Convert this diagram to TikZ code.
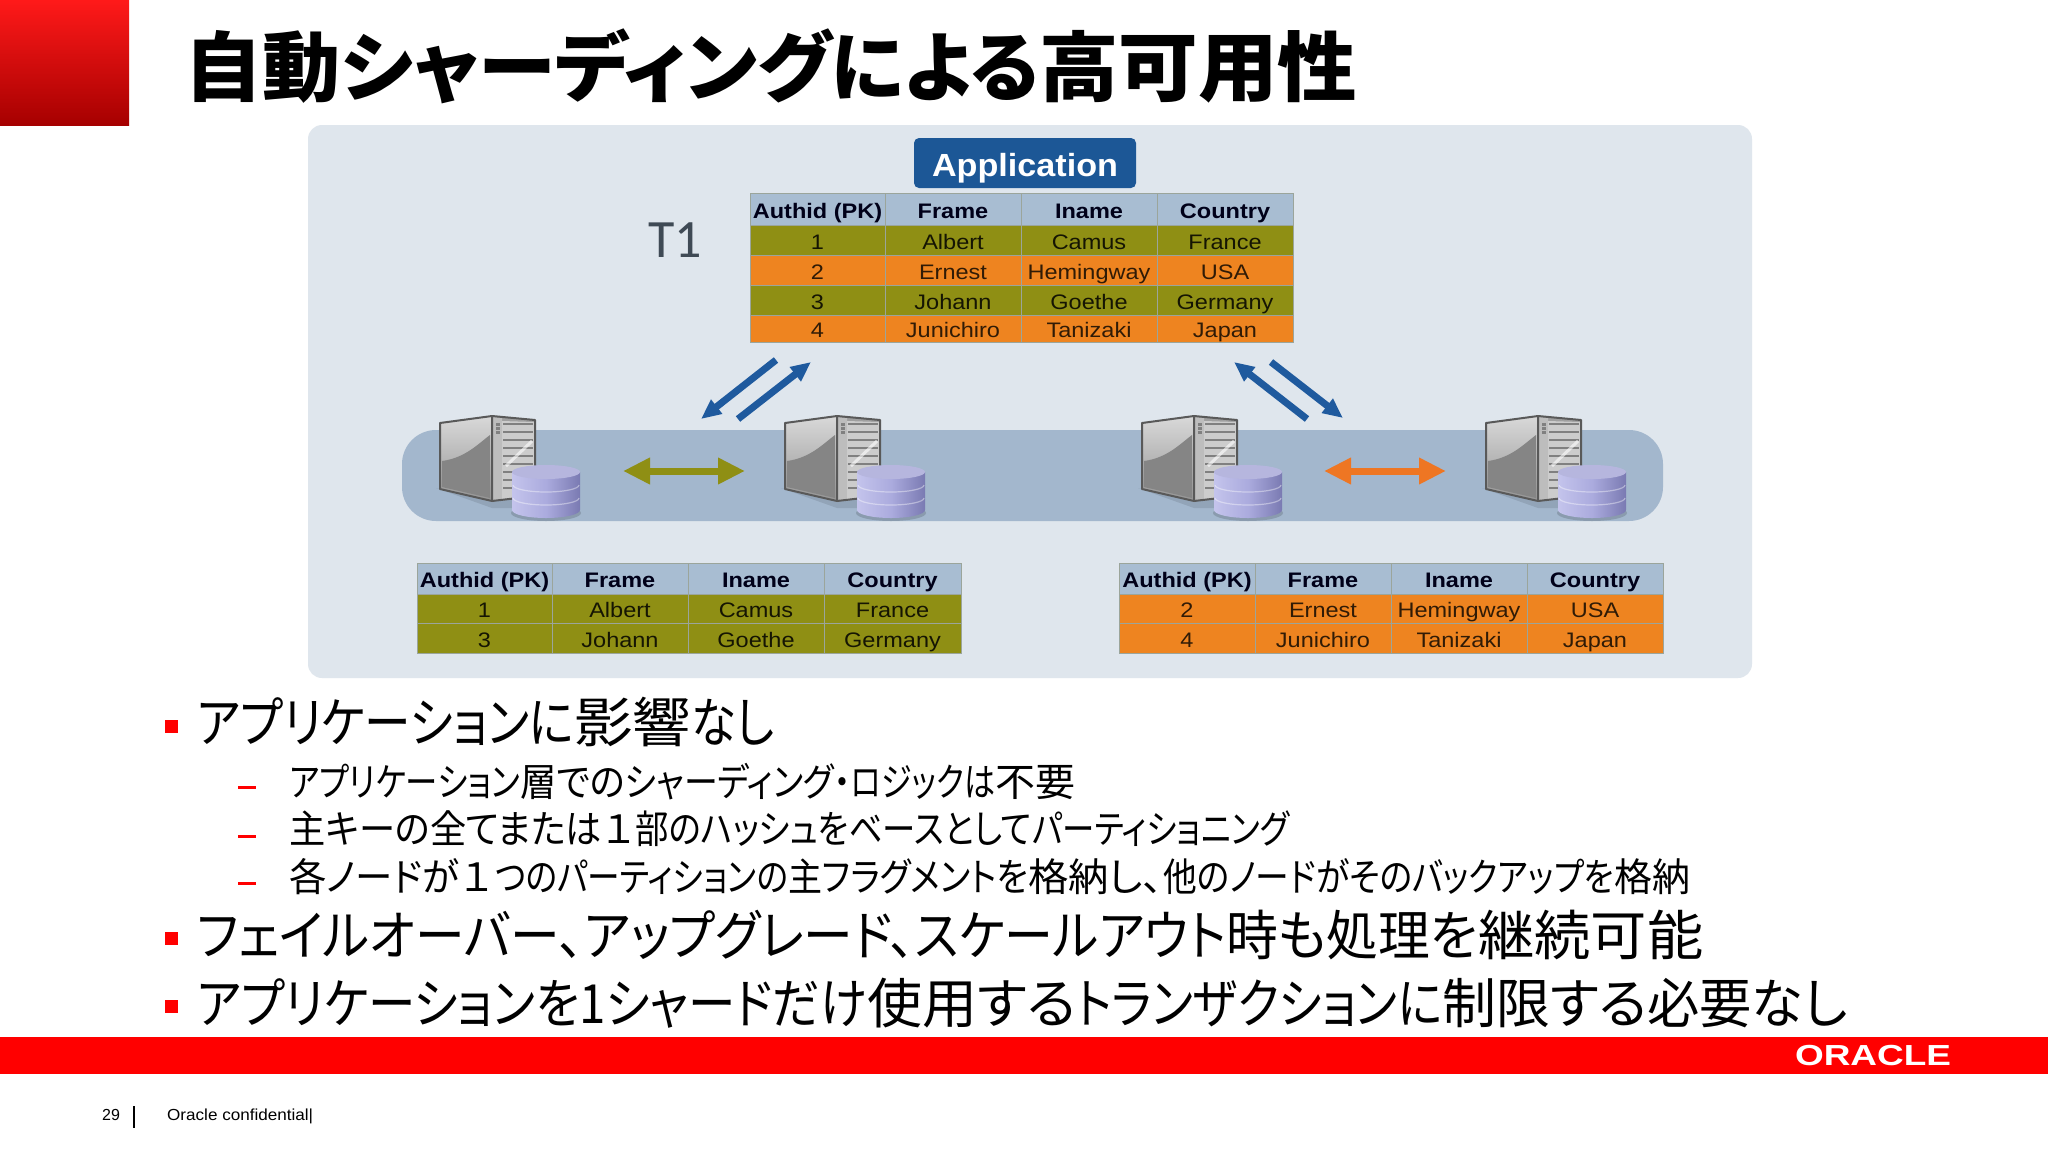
\documentclass[tikz,border=0pt]{standalone}
\usepackage{fontspec}
\usepackage{graphicx}
\setmainfont{Liberation Sans}
\newfontfamily\jpfont[RawFeature=+palt]{Noto Sans CJK JP}
\newfontfamily\calfont{Carlito}
\usetikzlibrary{arrows.meta}
\definecolor{panelc}{HTML}{DFE6ED}
\definecolor{bandc}{HTML}{A3B7CD}
\definecolor{headc}{HTML}{A8BDD2}
\definecolor{olivec}{HTML}{8F8F14}
\definecolor{orangec}{HTML}{EE8420}
\definecolor{bluec}{HTML}{1F5A9E}
\definecolor{appc}{HTML}{1C5796}
\definecolor{arrowor}{HTML}{EE7623}
\definecolor{gridc}{HTML}{9BA59B}
\definecolor{oracred}{HTML}{FF0000}
\definecolor{t1c}{HTML}{3F4A55}
\definecolor{dbl}{HTML}{C4C4EC}
\definecolor{dbm}{HTML}{ABABDE}
\definecolor{dbr}{HTML}{7A7AB2}
\definecolor{dbt}{HTML}{B6B6DE}
\tikzset{
  cellbase/.style={draw=gridc,line width=1pt,inner sep=0pt,text height=18pt,text depth=0pt,font=\fontsize{21}{24}\selectfont},
  headcell/.style={cellbase,fill=headc,text=black!90!blue,font=\bfseries\fontsize{21}{24}\selectfont},
  olivecell/.style={cellbase,fill=olivec,text=black!85!olivec},
  orangecell/.style={cellbase,fill=orangec,text=black!80!orangec},
  bluearrow/.style={draw=bluec,line width=7pt,-{Triangle[length=20pt,width=17pt]}},
  bigarrow/.style={line width=7pt,{Triangle[length=27pt,width=25pt]}-{Triangle[length=27pt,width=25pt]}},
  textline/.style={anchor=west,inner sep=0pt,text=black},
  bulletmark/.style={fill=oracred,draw=none,minimum width=13pt,minimum height=13pt,inner sep=0pt},
  dashmark/.style={fill=oracred,draw=none,minimum width=18pt,minimum height=3pt,inner sep=0pt},
}
% cell: name, x0, x1, y0, y1, style, text
\newcommand{\tcell}[7]{%
  \pgfmathsetmacro{\cw}{#3-#2}\pgfmathsetmacro{\ch}{#5-#4}%
  \node[#6,minimum width=\cw pt,minimum height=\ch pt] (#1) at ({(#2+#3)/2},{(#4+#5)/2}) {\scalebox{1.12}[1]{#7}};}
\newcommand{\setcols}[5]{\def\xa{#1}\def\xb{#2}\def\xc{#3}\def\xd{#4}\def\xe{#5}}
% row: prefix, y0, y1, style, four texts
\newcommand{\trow}[8]{%
  \tcell{#1a}{\xa}{\xb}{#2}{#3}{#4}{#5}%
  \tcell{#1b}{\xb}{\xc}{#2}{#3}{#4}{#6}%
  \tcell{#1c}{\xc}{\xd}{#2}{#3}{#4}{#7}%
  \tcell{#1d}{\xd}{\xe}{#2}{#3}{#4}{#8}}
% fit text horizontally to a given width
\newcommand{\fitw}[2]{\resizebox{#1pt}{\height}{#2}}
% a centred character in a slot of a given width
\newcommand{\slot}[2]{\makebox[#1pt]{#2}}
% server + database drawing
\newcommand{\srv}[2]{%
\begin{scope}[shift={(#1,#2)}]
  \fill[black,opacity=.10] (-4,72) -- (52,92) -- (96,92) -- (96,80) -- (52,85) -- (0,73) -- cycle;
  \fill[gray!75] (52,0) -- (95,4) -- (95,82) -- (52,85) -- cycle;
  \shade[top color=white!85!black,bottom color=black!42] (0,7) -- (52,0) -- (52,85) -- (0,73) -- cycle;
  \fill[black!48] (2,45) .. controls (25,42) and (38,28) .. (50,19) -- (50,82) -- (2,71) -- cycle;
  \fill[white!74!black] (53,1) -- (62,2) -- (62,84) -- (53,85) -- cycle;
  \fill[white!80!black] (62,5) -- (94,6) -- (94,80) -- (62,83) -- cycle;
  \foreach \yy in {8,16,24,32,40,48,56,64,72}{\draw[black!50,line width=1.4pt] (63,\yy) -- (93,\yy);}
  \draw[white,line width=3pt,opacity=.6] (66,50) -- (92,25);
  \draw[black!65,line width=2pt,line join=round] (0,7) -- (52,0) -- (95,4) -- (95,80) -- (52,85) -- (0,73) -- cycle (52,0) -- (52,85);
  \foreach \yy in {7,11,15}{\fill[black!50] (56,\yy) rectangle (60,\yy+2.5);}
  % database
  \fill[black,opacity=.15] (106,97) ellipse[x radius=35,y radius=8];
  \shade[left color=dbl,right color=dbr,middle color=dbm]
     (72,56) -- (72,94) arc[start angle=180,end angle=0,x radius=34,y radius=8] -- (140,56) -- cycle;
  \foreach \yy in {69,82}{\draw[white,opacity=.4,line width=1.2pt] (73,\yy) arc[start angle=180,end angle=0,x radius=33,y radius=7];}
  \fill[dbt] (106,56) ellipse[x radius=34,y radius=7];
\end{scope}}
\begin{document}
\begin{tikzpicture}[x=1pt,y=-1pt]
\useasboundingbox (0,0) rectangle (2048,1152);
\fill[white] (0,0) rectangle (2048,1152);
% red corner
\shade[top color=red!90!white,bottom color=red!65!black] (0,0) rectangle (129,125);
% title
\node[textline] (title) at (184,66) {\jpfont\bfseries\fontsize{76}{80}\selectfont\fitw{647}{自動シャーディング}\fitw{208}{による}\fitw{318}{高可用性}};
% panel
\fill[panelc,rounded corners=14pt] (308,125) rectangle (1752,678);
\fill[bandc,rounded corners=34pt] (402,430) rectangle (1663,521);
% application
\node[fill=appc,rounded corners=5pt,text=white,inner sep=0pt,minimum width=222pt,minimum height=50pt,text height=30pt,text depth=3pt] (app) at (1025,163)
  {\bfseries\fontsize{32}{34}\selectfont\fitw{186}{Application}};
\node[anchor=center,inner sep=0pt,text=t1c] (t1) at (675,240) {\calfont\fontsize{54}{58}\selectfont T1};
% main table
\setcols{750}{885}{1021}{1157}{1293}
\trow{ma}{193}{225}{headcell}{Authid (PK)}{Frame}{Iname}{Country}
\trow{mb}{225}{255}{olivecell}{1}{Albert}{Camus}{France}
\trow{mc}{255}{285}{orangecell}{2}{Ernest}{Hemingway}{USA}
\trow{md}{285}{315}{olivecell}{3}{Johann}{Goethe}{Germany}
\trow{me}{315}{342}{orangecell}{4}{Junichiro}{Tanizaki}{Japan}
% left table
\setcols{417}{552}{688}{824}{961}
\trow{la}{563}{594}{headcell}{Authid (PK)}{Frame}{Iname}{Country}
\trow{lb}{594}{623}{olivecell}{1}{Albert}{Camus}{France}
\trow{lc}{623}{653}{olivecell}{3}{Johann}{Goethe}{Germany}
% right table
\setcols{1119}{1255}{1391}{1527}{1663}
\trow{ra}{563}{594}{headcell}{Authid (PK)}{Frame}{Iname}{Country}
\trow{rb}{594}{623}{orangecell}{2}{Ernest}{Hemingway}{USA}
\trow{rc}{623}{653}{orangecell}{4}{Junichiro}{Tanizaki}{Japan}
% servers
\srv{440}{416}
\srv{785}{416}
\srv{1142}{416}
\srv{1486}{416}
% connectors
\coordinate (b1s) at (776,360); \coordinate (b1e) at (701,419);
\coordinate (b2s) at (738,419); \coordinate (b2e) at (811,362);
\coordinate (b3s) at (1307,419); \coordinate (b3e) at (1234,362);
\coordinate (b4s) at (1271,362); \coordinate (b4e) at (1343,418);
\draw[bluearrow] (b1s) -- (b1e);
\draw[bluearrow] (b2s) -- (b2e);
\draw[bluearrow] (b3s) -- (b3e);
\draw[bluearrow] (b4s) -- (b4e);
\coordinate (g1) at (623,471); \coordinate (g2) at (745,471);
\coordinate (o1) at (1324,471); \coordinate (o2) at (1446,471);
\draw[bigarrow,draw=olivec] (g1) -- (g2);
\draw[bigarrow,draw=arrowor] (o1) -- (o2);
% body text
\node[bulletmark] (bu1) at (171.5,726) {};
\node[textline] (l1) at (197,722) {\jpfont\fontsize{54}{58}\selectfont\fitw{377}{アプリケーションに}\fitw{117}{影響}\fitw{83}{なし}};
\node[dashmark] (d1) at (247,787) {};
\node[textline] (s1) at (289,782) {\jpfont\fontsize{39}{42}\selectfont\fitw{231}{アプリケーション}\fitw{105}{層での}\fitw{226}{シャーディング・}\fitw{144}{ロジックは}\fitw{80}{不要}};
\node[dashmark] (d2) at (247,836) {};
\node[textline] (s2) at (289,829) {\jpfont\fontsize{39}{42}\selectfont\fitw{313}{主キーの全てまたは}\slot{33}{１}\fitw{309}{部のハッシュをベース}\fitw{88}{として}\fitw{257}{パーティショニング}};
\node[dashmark] (d3) at (247,883) {};
\node[textline] (s3) at (289,877) {\jpfont\fontsize{39}{42}\selectfont\fitw{170}{各ノードが}\slot{36}{１}\fitw{293}{つのパーティションの}\fitw{240}{主フラグメントを}\fitw{135}{格納し、}\fitw{249}{他のノードがその}\fitw{202}{バックアップを}\fitw{76}{格納}};
\node[bulletmark] (bu2) at (171.5,938) {};
\node[textline] (l2) at (197,935) {\jpfont\fontsize{54}{58}\selectfont\fitw{387}{フェイルオーバー、}\fitw{331}{アップグレード、}\fitw{311}{スケールアウト}\fitw{252}{時も処理を}\fitw{225}{継続可能}};
\node[bulletmark] (bu3) at (171.5,1006) {};
\node[textline] (l3) at (197,1003) {\jpfont\fontsize{54}{58}\selectfont\fitw{670}{アプリケーションを1シャードだけ}\fitw{209}{使用する}\fitw{366}{トランザクションに}\fitw{205}{制限する}\fitw{200}{必要なし}};
% red bar
\fill[oracred] (0,1037) rectangle (2048,1074);
\node[anchor=center,inner sep=0pt,text=white] (oracle) at (1873,1055.5) {\bfseries\fontsize{29}{30}\selectfont\fitw{156}{ORACLE}};
% footer
\node[anchor=west,inner sep=0pt] (pg) at (102,1115) {\fontsize{16}{18}\selectfont 29};
\draw[black,line width=1.2pt] (134,1106) -- (134,1128);
\node[anchor=west,inner sep=0pt] (conf) at (167,1116) {\fontsize{16}{18}\selectfont\fitw{146}{Oracle confidential|}};
\end{tikzpicture}
\end{document}
